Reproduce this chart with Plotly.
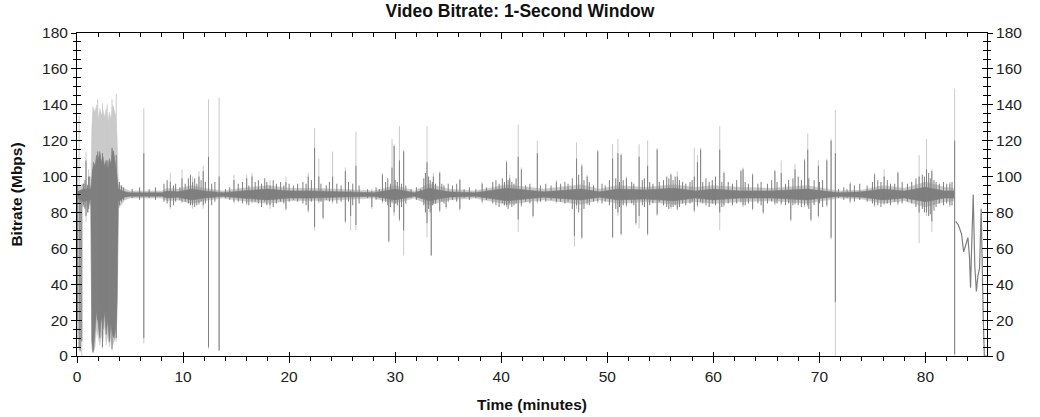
import plotly.graph_objects as go

# ---------------- data ----------------
# noise band around the ~90 Mbps baseline: time (min) and band edges (Mbps)
band_t = [0.0, 0.6, 1.3, 1.4, 1.55, 1.7, 1.85, 2.0, 2.15, 2.3, 2.45, 2.6, 2.75, 2.9, 3.05,
          3.2, 3.35, 3.5, 3.65, 3.78, 3.9, 4.5, 5.0, 8.0, 8.5, 9.5, 10.8, 12.0, 13.8, 15.5,
          18.0, 20.0, 22.0, 24.5, 28.0, 30.0, 31.8, 33.2, 35.0, 37.5, 40.5, 44.0, 47.5, 49.3,
          51.0, 53.5, 56.3, 58.3, 60.0, 62.5, 65.5, 68.8, 71.8, 74.0, 76.0, 78.0, 80.0, 81.8,
          82.7]
dark_hi = [91.5, 93, 93, 100, 108, 106, 112, 110, 114, 108, 111, 106, 109, 104, 110,
           107, 115, 112, 106, 100, 93, 91.5, 91, 91, 92, 91.5, 93, 92, 91, 92,
           93, 92, 92, 91.5, 91, 93, 91, 93.5, 91.5, 91, 93.5, 91.5, 93, 91.5,
           93, 92.5, 93.5, 92, 93, 92, 92, 93, 91, 91.5, 93, 92, 94, 92,
           92]
dark_lo = [88, 86, 87, 8, 3, 12, 25, 18, 10, 22, 15, 25, 12, 20, 8,
           18, 12, 10, 15, 30, 86, 88.5, 89, 89, 88, 88.5, 87, 88, 89, 88,
           87, 88, 88, 88.5, 89, 87, 89, 86.5, 88.5, 89, 86.5, 88.5, 87, 88.5,
           87, 87.5, 86.5, 88, 87, 88, 88, 87, 89, 88.5, 87, 88, 86, 88,
           88]
light_hi = [94, 96, 95, 128, 138, 136, 140, 132, 138, 134, 137, 133, 138, 130, 136,
            132, 140, 137, 134, 122, 96, 93, 92, 92, 93.5, 93, 95, 93.5, 92, 93.5,
            95, 93.5, 93.5, 93, 92, 95, 92, 96, 93, 92, 95.5, 93, 95.5, 93,
            95, 94, 95.5, 94, 95, 94, 93.5, 95, 92, 92.5, 95, 93.5, 97, 94,
            93.5]
light_lo = [86, 83, 84, 4, 2, 5, 15, 10, 6, 12, 8, 18, 6, 12, 5,
            10, 6, 8, 10, 20, 82, 87, 88, 88, 86.5, 87, 85, 86.5, 88, 86.5,
            85, 86.5, 86.5, 87, 88, 85, 88, 84, 87, 88, 84.5, 87, 84.5, 87,
            85, 86, 84.5, 86, 85, 86, 86.5, 85, 88, 87.5, 85, 86.5, 83, 86,
            86.5]

# large individual excursions (spikes): time and extent for each series
spike_t = [0.05, 0.2, 0.3, 0.45, 0.85, 1.1,
           1.5, 1.95, 2.2, 2.4, 2.85, 3.3, 3.45, 3.7,
           6.3, 8.8, 9.9, 10.9, 11.5, 11.9, 12.4, 13.4, 14.8,
           16.0, 16.5, 18.2, 19.7, 21.8, 22.4, 22.8, 23.2, 24.1, 25.3, 25.8, 26.3, 27.8, 28.8,
           29.4, 29.7, 29.9, 30.4, 30.8, 33.0, 33.4, 33.6, 34.2, 34.8, 36.1, 38.2, 40.5,
           40.8, 41.6, 41.9, 43.0, 43.4, 45.2, 46.9, 47.1, 47.6, 48.1, 49.1, 50.5, 51.0,
           51.3, 51.8, 52.7, 53.0, 53.8, 54.7, 56.0, 56.6, 58.2, 58.5, 58.8, 60.6, 61.0,
           62.6, 62.8, 63.7, 64.7, 65.8, 66.4, 67.3, 67.7, 68.6, 68.9, 69.2, 69.9, 70.7,
           71.1, 71.5, 72.9, 75.2, 76.1, 77.4, 79.4, 80.1, 80.6, 82.3, 82.75]
spike_dark_hi = [95, 92, 90, 90, 109, 100,
                 104, 114, 110, 113, 109, 116, 114, 112,
                 113, 97, 99, 97, 100, 103, 111, 100, 98,
                 99, 100, 95, 97, 100, 116, 100, 92, 100, 103, 92, 106, 92, 101,
                 92, 105, 117, 109, 114, 108, 92, 100, 102, 92, 98, 96, 108,
                 99, 111, 104, 92, 113, 97, 92, 110, 106, 100, 114, 110, 113,
                 112, 99, 92, 111, 106, 115, 101, 100, 100, 108, 115, 115, 102,
                 103, 104, 101, 92, 103, 102, 92, 104, 109, 115, 92, 106, 109,
                 120, 113, 96, 101, 100, 102, 100, 104, 103, 96, 120]
spike_dark_lo = [20, 5, 3, 8, 78, 82,
                 2, 20, 30, 5, 25, 4, 18, 10,
                 10, 83, 86, 84, 85, 84, 5, 3, 86,
                 85, 86, 84, 82, 81, 72, 86, 77, 86, 75, 78, 73, 83, 86,
                 64, 86, 80, 76, 70, 74, 56, 85, 81, 83, 82, 86, 84,
                 85, 76, 84, 78, 86, 86, 67, 84, 66, 85, 86, 66, 80,
                 68, 84, 74, 78, 68, 79, 83, 82, 81, 84, 86, 80, 84,
                 86, 84, 82, 80, 85, 85, 76, 85, 84, 84, 76, 78, 84,
                 66, 30, 86, 84, 85, 85, 80, 80, 75, 84, 1]
spike_light_hi = [110, 134, 95, 92, 114, 104,
                  139, 143, 136, 141, 140, 143, 139, 146,
                  138, 102, 104, 100, 103, 106, 143, 144, 101,
                  101, 102, 98, 100, 102, 127, 110, 93, 114, 105, 93, 125, 93, 102,
                  93, 121, 118, 128, 115, 128, 93, 102, 103, 93, 99, 97, 109,
                  101, 129, 105, 93, 120, 98, 93, 119, 107, 101, 115, 118, 121,
                  113, 100, 93, 118, 120, 116, 102, 103, 116, 112, 116, 128, 103,
                  104, 105, 102, 93, 104, 109, 93, 107, 110, 124, 93, 109, 110,
                  121, 137, 97, 102, 104, 103, 112, 121, 104, 97, 149]
spike_light_lo = [10, 3, 2, 0, 75, 80,
                  2, 15, 25, 4, 20, 3, 15, 8,
                  7, 82, 85, 82, 84, 82, 4, 3, 85,
                  84, 85, 82, 81, 80, 70, 85, 76, 85, 74, 70, 70, 82, 85,
                  63, 85, 78, 75, 56, 66, 56, 84, 80, 82, 81, 85, 83,
                  84, 69, 83, 77, 85, 85, 61, 82, 65, 84, 85, 66, 78,
                  67, 83, 73, 71, 67, 78, 82, 81, 80, 83, 85, 70, 83,
                  85, 83, 81, 79, 84, 84, 75, 84, 83, 83, 75, 77, 83,
                  65, 0, 85, 83, 84, 84, 63, 78, 69, 83, 0]

# small excursions that give the baseline its texture (average series)
small_t = [0.6, 0.75, 1.0, 1.2, 4.0, 4.2, 4.4, 5.2, 5.9, 6.8, 7.4, 8.2, 8.5, 9.1, 9.3,
           9.7, 10.2, 10.5, 10.7, 11.1, 11.3, 11.7, 12.1, 12.7, 13.0, 14.0, 14.4, 15.2,
           15.6, 16.2, 16.8, 17.1, 17.4, 17.7, 17.9, 18.5, 18.8, 19.2, 19.5, 20.0, 20.4,
           20.8, 21.3, 21.6, 22.1, 23.0, 23.5, 23.8, 24.5, 24.9, 25.6, 26.0, 26.6, 27.4,
           28.2, 28.5, 29.1, 29.3, 29.55, 30.0, 30.2, 30.6, 31.0, 31.5, 32.0, 32.4, 32.7,
           32.85, 33.15, 33.3, 33.5, 33.8, 34.4, 34.6, 35.0, 35.4, 35.8, 36.5, 37.0, 37.6,
           38.6, 39.2, 39.5, 39.8, 40.1, 40.3, 40.65, 41.0, 41.2, 41.4, 42.3, 42.7, 43.7,
           44.2, 44.7, 45.6, 46.0, 46.3, 46.7, 47.3, 47.8, 48.3, 48.7, 49.5, 49.8, 50.2,
           50.8, 51.15, 51.5, 52.3, 52.5, 53.3, 53.5, 54.0, 54.3, 54.9, 55.3, 55.6, 55.8,
           56.2, 56.4, 56.8, 57.1, 57.4, 57.8, 58.0, 59.0, 59.3, 59.6, 59.9, 60.2, 60.8,
           61.4, 61.8, 62.2, 63.0, 63.3, 64.2, 64.5, 65.1, 65.5, 66.0, 66.8, 67.1, 67.5,
           68.0, 68.3, 69.0, 69.5, 70.0, 70.3, 71.8, 72.3, 72.6, 73.3, 73.8, 74.5, 75.0,
           75.5, 75.8, 76.4, 76.7, 77.1, 77.8, 78.3, 78.7, 79.1, 79.7, 79.9, 80.3, 80.45,
           80.8, 81.0, 81.3, 81.7, 82.0, 82.5]
small_hi = [96, 98, 95, 100, 97, 95, 94, 93, 94, 93, 94, 96, 98, 95, 96,
            94, 96, 99, 101, 99, 96, 98, 97, 96, 97, 93, 94, 96,
            97, 95, 97, 98, 96, 99, 97, 98, 96, 97, 95, 96, 95,
            96, 97, 96, 98, 96, 95, 97, 96, 95, 97, 96, 95, 93,
            94, 93, 97, 99, 96, 98, 97, 96, 95, 93, 94, 93, 99,
            102, 100, 98, 97, 96, 96, 95, 96, 95, 96, 93, 94, 93,
            94, 97, 98, 96, 99, 97, 98, 97, 96, 99, 95, 96, 95,
            96, 95, 96, 97, 96, 99, 101, 98, 97, 95, 96, 95, 98,
            99, 97, 98, 97, 96, 98, 99, 97, 96, 97, 98, 100, 99,
            98, 100, 98, 97, 96, 97, 98, 97, 99, 97, 98, 100, 97,
            97, 96, 98, 97, 96, 96, 97, 96, 98, 97, 96, 98, 99,
            100, 98, 99, 98, 97, 98, 93, 94, 93, 95, 96, 95, 97,
            98, 97, 98, 96, 96, 97, 96, 97, 99, 101, 100, 102, 99,
            98, 97, 96, 97, 96, 97]
small_lo = [84, 82, 80, 85, 84, 86, 87, 88, 87, 88, 87, 86, 85, 84, 86,
            87, 86, 85, 84, 83, 84, 86, 85, 84, 86, 88, 87, 86,
            85, 84, 86, 85, 83, 86, 84, 83, 85, 86, 85, 86, 87,
            86, 85, 84, 86, 86, 87, 86, 85, 86, 86, 84, 85, 88,
            87, 88, 86, 84, 83, 85, 84, 83, 85, 88, 87, 88, 84,
            80, 82, 80, 84, 85, 86, 85, 86, 87, 86, 88, 87, 88,
            87, 85, 84, 83, 85, 84, 82, 83, 84, 85, 86, 85, 86,
            86, 87, 86, 85, 86, 82, 80, 82, 84, 86, 85, 86, 84,
            82, 83, 84, 85, 84, 84, 83, 84, 85, 86, 84, 83, 82,
            83, 84, 83, 85, 84, 85, 86, 85, 84, 83, 85, 84, 83,
            85, 84, 85, 84, 85, 85, 84, 85, 86, 85, 84, 85, 84,
            84, 83, 82, 84, 85, 83, 88, 87, 88, 86, 87, 86, 85,
            84, 83, 85, 84, 86, 85, 86, 85, 83, 82, 80, 78, 79,
            81, 83, 85, 84, 85, 84]

# final minutes: single trace after the drop
tail_t = [82.85, 83.1, 83.4, 83.6, 83.8, 84.0, 84.15, 84.25, 84.35, 84.5, 84.65, 84.8,
          84.95, 85.1, 85.25, 85.35, 85.45, 85.55, 85.8]
tail_v = [75, 73, 68, 58, 62, 66, 55, 38, 60, 90, 50, 36, 45, 49, 82, 40, 20, 0, 0]

x_ticks = [0, 10, 20, 30, 40, 50, 60, 70, 80]
y_ticks = [0, 20, 40, 60, 80, 100, 120, 140, 160, 180]
x_range = [0, 85.8]
y_range = [0, 180]

DARK = "#7f7f7f"
LIGHT = "#cacaca"
FONT = "Liberation Sans, Arial, sans-serif"


def vlines(ts, lo, hi):
    xs, ys = [], []
    for t, a, b in zip(ts, lo, hi):
        xs += [t, t, None]
        ys += [a, b, None]
    return xs, ys


fig = go.Figure()

# light series (peaks)
fig.add_trace(go.Scatter(x=band_t, y=light_hi, mode="lines", line=dict(color=LIGHT, width=0.5),
                         hoverinfo="skip", showlegend=False))
fig.add_trace(go.Scatter(x=band_t, y=light_lo, mode="lines", line=dict(color=LIGHT, width=0.5),
                         fill="tonexty", fillcolor=LIGHT, hoverinfo="skip", showlegend=False))
lx, ly = vlines(spike_t, spike_light_lo, spike_light_hi)
fig.add_trace(go.Scatter(x=lx, y=ly, mode="lines", line=dict(color=LIGHT, width=1),
                         hoverinfo="skip", showlegend=False))

# dark series (average)
fig.add_trace(go.Scatter(x=band_t, y=dark_hi, mode="lines", line=dict(color=DARK, width=0.6),
                         hoverinfo="skip", showlegend=False))
fig.add_trace(go.Scatter(x=band_t, y=dark_lo, mode="lines", line=dict(color=DARK, width=0.6),
                         fill="tonexty", fillcolor=DARK, hoverinfo="skip", showlegend=False))
sx, sy = vlines(small_t, small_lo, small_hi)
fig.add_trace(go.Scatter(x=sx, y=sy, mode="lines", line=dict(color=DARK, width=1),
                         hoverinfo="skip", showlegend=False))
dx, dy = vlines(spike_t, spike_dark_lo, spike_dark_hi)
fig.add_trace(go.Scatter(x=dx, y=dy, mode="lines", line=dict(color=DARK, width=1),
                         hoverinfo="skip", showlegend=False))
fig.add_trace(go.Scatter(x=tail_t, y=tail_v, mode="lines", line=dict(color=DARK, width=1.2),
                         hoverinfo="skip", showlegend=False))

# dummy traces so the overlay tick axes are drawn
for xa, ya in [("x2", "y2"), ("x3", "y3"), ("x", "y4")]:
    fig.add_trace(go.Scatter(x=[None], y=[None], xaxis=xa, yaxis=ya, showlegend=False,
                             hoverinfo="skip"))

tickfont = dict(family=FONT, size=15.5, color="#222222")
common_x = dict(range=x_range, tickvals=x_ticks, showgrid=False, zeroline=False,
                tickcolor="black", tickwidth=1, automargin=False)
common_y = dict(range=y_range, tickvals=y_ticks, showgrid=False, zeroline=False,
                tickcolor="black", tickwidth=1, automargin=False)

fig.update_layout(
    width=1040, height=417,
    margin=dict(l=77, r=53, t=33, b=61),
    paper_bgcolor="white", plot_bgcolor="white",
    title=dict(text="<b>Video Bitrate: 1-Second Window</b>", x=0.5, xref="container",
               xanchor="center", y=1 - 10.5 / 417, yref="container", yanchor="middle",
               font=dict(family=FONT, size=17.5, color="#111111")),
    xaxis=dict(**common_x, side="bottom", ticks="outside", ticklen=6, showline=True,
               linecolor="black", linewidth=1, tickfont=tickfont,
               minor=dict(dtick=2, ticks="outside", ticklen=4, tickcolor="black"),
               title=dict(text="<b>Time (minutes)</b>",
                          font=dict(family=FONT, size=15.5, color="#111111"))),
    xaxis2=dict(**common_x, overlaying="x", side="bottom", anchor="y", ticks="inside",
                ticklen=4, showticklabels=False, showline=False),
    xaxis3=dict(**common_x, overlaying="x", side="top", anchor="y", ticks="inside",
                ticklen=6, showticklabels=False, showline=True, linecolor="black",
                minor=dict(dtick=2, ticks="inside", ticklen=4, tickcolor="black")),
    yaxis=dict(**common_y, side="left", ticks="outside", ticklen=5, showline=True,
               linecolor="black", linewidth=1, tickfont=tickfont,
               minor=dict(dtick=5, ticks="outside", ticklen=3, tickcolor="black"),
               title=dict(text="<b>Bitrate (Mbps)</b>",
                          font=dict(family=FONT, size=15.5, color="#111111"))),
    yaxis2=dict(**common_y, overlaying="y", side="left", anchor="x", ticks="inside",
                ticklen=5, showticklabels=False, showline=False,
                minor=dict(dtick=5, ticks="inside", ticklen=4, tickcolor="black")),
    yaxis3=dict(**common_y, overlaying="y", side="right", anchor="x", ticks="outside",
                ticklen=5, showticklabels=True, tickfont=tickfont, showline=True,
                linecolor="black",
                minor=dict(dtick=5, ticks="outside", ticklen=3, tickcolor="black")),
    yaxis4=dict(**common_y, overlaying="y", side="right", anchor="x", ticks="inside",
                ticklen=5, showticklabels=False, showline=False,
                minor=dict(dtick=5, ticks="inside", ticklen=4, tickcolor="black")),
)

fig.write_html("out.html", config={"displayModeBar": False},
               post_script="document.body.style.margin='0px';document.body.style.overflow='hidden';")
